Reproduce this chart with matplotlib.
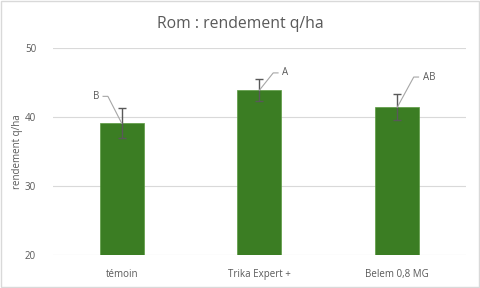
import matplotlib.pyplot as plt
import numpy as np
from matplotlib.patches import Rectangle

# data
categories = ["témoin", "Trika Expert +", "Belem 0,8 MG"]
rendement = [39.1, 43.9, 41.4]
erreur = [2.2, 1.6, 1.9]
lettres = ["B", "A", "AB"]

plt.rcParams['font.family'] = ['Open Sans', 'DejaVu Sans']
grey = "#595959"

fig = plt.figure(figsize=(4.8, 2.88), dpi=100)
ax = fig.add_axes([0.110, 0.115, 0.861, 0.718])

x = np.arange(len(categories))
ax.bar(x, [r - 20 for r in rendement], bottom=20, width=0.32,
       color="#3b7d23", edgecolor="#5a9a40", linewidth=0.5, zorder=3)
ax.errorbar(x, rendement, yerr=erreur, fmt="none", ecolor=grey,
            elinewidth=1.0, capsize=3, capthick=1.0, zorder=4)

# letter labels with leader lines (label x offset, label y, side)
positions = [(-0.10, 43.0, -1), (0.10, 46.4, 1), (0.12, 45.8, 1)]
for xi, yi, lab, (dx, ly, side) in zip(x, rendement, lettres, positions):
    x1 = xi + dx
    x2 = x1 + side * 0.035
    ax.plot([xi, x1, x2], [yi, ly, ly], color="#a6a6a6", lw=0.8, zorder=5)
    ax.text(x2 + side * 0.03, ly, lab, fontsize=7, color=grey,
            ha="left" if side > 0 else "right", va="center")

ax.set_xlim(-0.5, 2.5)
ax.set_ylim(20, 50)
ax.set_yticks([20, 30, 40, 50])
ax.set_xticks(x)
ax.set_xticklabels(categories)
ax.grid(axis="y", color="#d9d9d9", lw=0.8, zorder=0)
for s in ax.spines.values():
    s.set_visible(False)
ax.tick_params(length=0, labelsize=7, colors=grey, pad=10)
ax.tick_params(axis="y", pad=12)
ax.set_ylabel("rendement q/ha", fontsize=7, color=grey)
ax.yaxis.set_label_coords(-0.072, 0.5)

fig.text(0.5, 0.915, "Rom : rendement q/ha", fontsize=11.3, color=grey,
         ha="center", va="center")

fig.patches.append(Rectangle((0.002, 0.003), 0.996, 0.994, transform=fig.transFigure,
                             fill=False, edgecolor="#d9d9d9", lw=1))

fig.savefig("out.png", dpi=100)
